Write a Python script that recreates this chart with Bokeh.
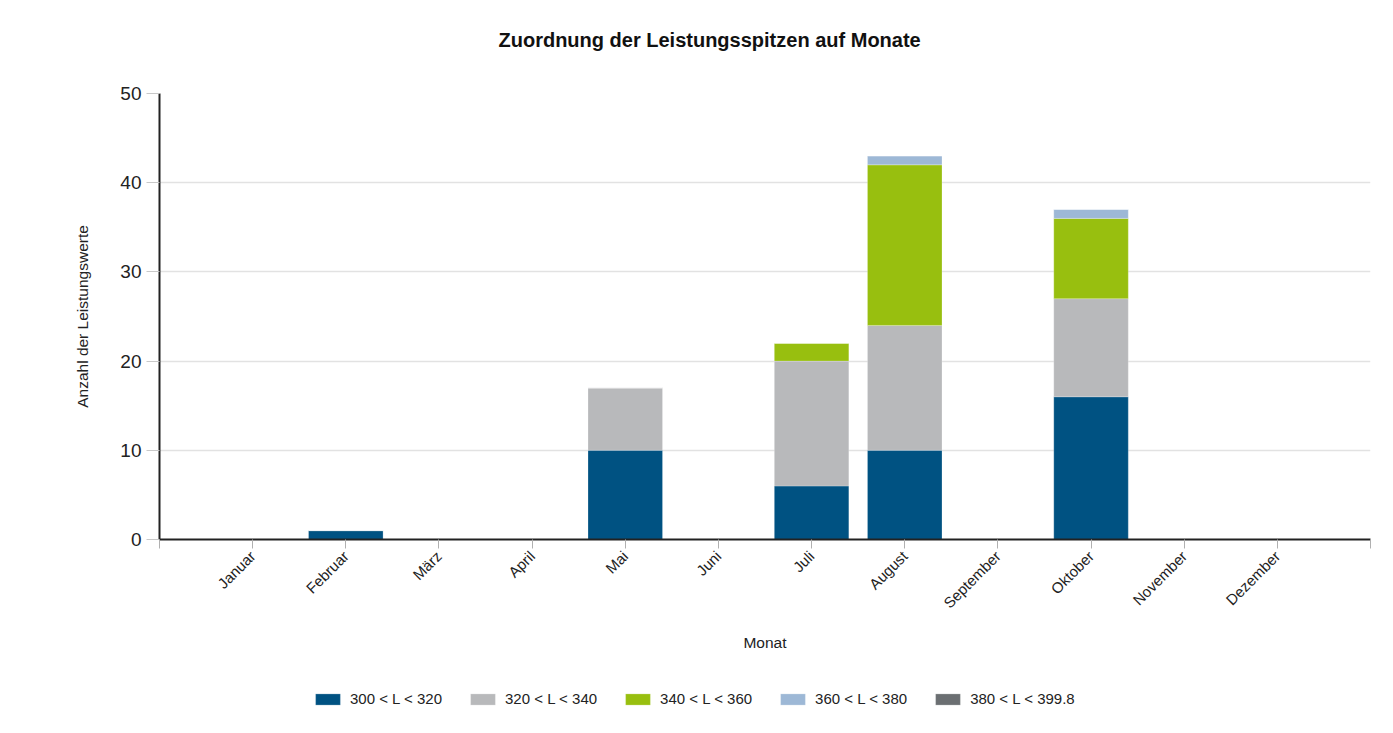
from bokeh.plotting import figure
from bokeh.layouts import column
from bokeh.models import ColumnDataSource, Legend, FixedTicker, Title, BoxAnnotation, Range1d
from bokeh.embed import file_html
from bokeh.resources import INLINE

months = ["Januar", "Februar", "März", "April", "Mai", "Juni", "Juli",
          "August", "September", "Oktober", "November", "Dezember"]
month_pos = list(range(1, 13))
series_names = ["300 < L < 320", "320 < L < 340", "340 < L < 360", "360 < L < 380", "380 < L < 399.8"]
s300_320 = [0, 1, 0, 0, 10, 0, 6, 10, 0, 16, 0, 0]
s320_340 = [0, 0, 0, 0, 7, 0, 14, 14, 0, 11, 0, 0]
s340_360 = [0, 0, 0, 0, 0, 0, 2, 18, 0, 9, 0, 0]
s360_380 = [0, 0, 0, 0, 0, 0, 0, 1, 0, 1, 0, 0]
s380_400 = [0, 0, 0, 0, 0, 0, 0, 0, 0, 0, 0, 0]
colors = ["#005282", "#b8b9bb", "#98bf0f", "#9db8d6", "#6b6f72"]
y_ticks = [0, 10, 20, 30, 40, 50]

keys = ["s0", "s1", "s2", "s3", "s4"]
src = ColumnDataSource(dict(x=month_pos, s0=s300_320, s1=s320_340, s2=s340_360,
                            s3=s360_380, s4=s380_400))

p = figure(width=1393, height=655, output_backend="svg", toolbar_location=None,
           x_range=(0, 13), y_range=(0, 50),
           min_border_left=159, min_border_right=23, min_border_top=93, min_border_bottom=116)
p.outline_line_color = None
p.background_fill_color = "white"
p.border_fill_color = "white"

# spacer panel between frame and title, then the title itself
p.add_layout(Title(text=" ", text_font_size="1px", standoff=36), "above")
title = Title(text="Zuordnung der Leistungsspitzen auf Monate", align="left", offset=339,
              text_font="Liberation Sans", text_font_size="20px", text_font_style="bold",
              text_color="#111111", standoff=8)
p.add_layout(title, "above")

p.vbar_stack(keys, x="x", width=0.8, source=src, color=colors,
             line_color="white", line_alpha=0.4, line_width=0.6)

# grid
p.xgrid.visible = False
p.ygrid.ticker = FixedTicker(ticks=y_ticks)
p.ygrid.grid_line_color = "#e2e2e2"
p.ygrid.grid_line_width = 1.5

# gap in top grid line behind the title area
p.add_layout(BoxAnnotation(left=1.62, right=6.22, bottom=49.6, top=50.4,
                           fill_color="white", fill_alpha=1.0, line_color=None,
                           level="underlay"))

# y axis
ya = p.yaxis[0]
ya.ticker = FixedTicker(ticks=y_ticks)
ya.axis_label = "Anzahl der Leistungswerte"
ya.axis_label_text_font = "Liberation Sans"
ya.axis_label_text_font_size = "15.5px"
ya.axis_label_text_font_style = "normal"
ya.axis_label_text_color = "#222222"
ya.axis_label_standoff = 26
ya.major_label_text_font = "Liberation Sans"
ya.major_label_text_font_size = "19px"
ya.major_label_text_color = "#222222"
ya.major_label_standoff = 5
ya.axis_line_color = "#222222"
ya.axis_line_width = 2
ya.major_tick_line_color = "#c8c8c8"
ya.major_tick_in = 0
ya.major_tick_out = 13
ya.minor_tick_line_color = None

# x axis
xa = p.xaxis[0]
xa.ticker = FixedTicker(ticks=[0] + month_pos + [13])
overrides = {0: "", 13: ""}
for pos, name in zip(month_pos, months):
    overrides[pos] = name
xa.major_label_overrides = overrides
xa.major_label_orientation = 0.785398
xa.major_label_text_font = "Liberation Sans"
xa.major_label_text_font_size = "15px"
xa.major_label_text_color = "#222222"
xa.major_label_standoff = 5
xa.axis_label = "Monat"
xa.axis_label_text_font = "Liberation Sans"
xa.axis_label_text_font_size = "15.5px"
xa.axis_label_text_font_style = "normal"
xa.axis_label_text_color = "#222222"
xa.axis_label_standoff = 14
xa.axis_line_color = "#222222"
xa.axis_line_width = 2
xa.major_tick_line_color = "#b0b0b0"
xa.major_tick_in = 0
xa.major_tick_out = 9
xa.minor_tick_line_color = None

# legend strip below the chart
pl = figure(width=1393, height=78, output_backend="svg", toolbar_location=None,
            x_range=Range1d(100, 101), y_range=Range1d(100, 101),
            x_axis_type=None, y_axis_type=None, min_border=0)
pl.outline_line_color = None
pl.grid.visible = False
leg_renderers = pl.vbar_stack(keys, x="x", width=0.8, source=src, color=colors,
                              line_color="white", line_alpha=0.4, line_width=0.6)
legend = Legend(items=[(n, [r]) for n, r in zip(series_names, leg_renderers)],
                orientation="horizontal", location=(153, 26),
                label_text_font="Liberation Sans", label_text_font_size="15px",
                label_text_color="#222222", glyph_width=31, glyph_height=14,
                label_standoff=7, spacing=25, border_line_color=None,
                background_fill_alpha=0, margin=0, padding=0)
pl.add_layout(legend, "center")

layout = column(p, pl, spacing=0)
open("out.html", "w").write(file_html(layout, INLINE))
